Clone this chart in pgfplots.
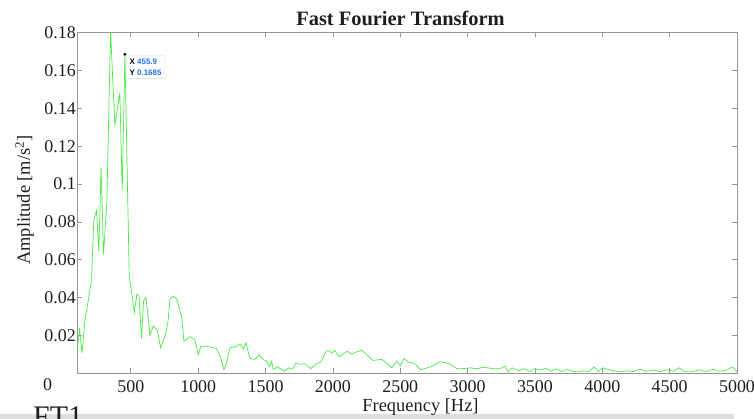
\documentclass[border=0pt]{standalone}
\usepackage{fontspec}
\setmainfont{Liberation Serif}
\newfontfamily\tipfont{Liberation Sans}
\usepackage{pgfplots}
\pgfplotsset{compat=1.18}
\definecolor{axgray}{RGB}{150,150,150}
\definecolor{fftgreen}{RGB}{70,235,70}
\definecolor{tipblue}{RGB}{30,120,235}
\definecolor{txt}{RGB}{30,30,30}
\begin{document}
\begin{tikzpicture}
\path[use as bounding box] (-77bp,-45.5bp) rectangle (677bp,373.5bp);
\fill[black!13] (-77bp,-45.5bp) rectangle (657bp,-40bp);
\node[anchor=base west,font=\fontsize{30}{30}\selectfont,text=txt,inner sep=0pt] at (-44bp,-53bp) {FT1};
\begin{axis}[
  scale only axis,
  width=660bp, height=341bp,
  xmin=100, xmax=5000, ymin=0, ymax=0.18,
  axis line style={axgray, line width=0.8pt},
  tick style={axgray, line width=0.8pt},
  major tick length=5bp,
  tick align=inside,
  xtick={500,1000,...,5000},
  xticklabels={500,1000,1500,2000,2500,3000,3500,4000,4500,5000},
  ytick={0.02,0.04,...,0.18},
  yticklabels={0.02,0.04,0.06,0.08,0.1,0.12,0.14,0.16,0.18},
  ticklabel style={font=\fontsize{18}{18}\selectfont, text=txt},
  yticklabel style={inner xsep=1bp},
  xticklabel style={inner ysep=0pt, yshift=-6.5bp},
  title={\textbf{Fast Fourier Transform}},
  title style={font=\fontsize{20.5}{20.5}\selectfont, text=txt, at={(rel axis cs:0.5,1)}, anchor=base, yshift=1.5bp, xshift=-6.5bp, inner sep=0pt},
  xlabel={Frequency [Hz]},
  xlabel style={font=\fontsize{18.5}{18.5}\selectfont, text=txt, at={(rel axis cs:0.5,0)}, anchor=base, yshift=-37.5bp, xshift=13.5bp, inner sep=0pt},
  ylabel={Amplitude [m/s\textsuperscript{2}]},
  ylabel style={font=\fontsize{18.5}{18.5}\selectfont, text=txt, at={(rel axis cs:0,0.5)}, anchor=base, yshift=47bp, xshift=3bp, inner sep=0pt},
  clip=true,
]
\addplot[fftgreen, line width=0.7pt, no marks] coordinates {
(100,0.0118) (119,0.0232) (138,0.0109) (158,0.0276) (183,0.0381) (208,0.0496)
(225,0.0812) (245,0.0860) (262,0.0645) (279,0.1085) (297,0.0628) (322,0.0909)
(349,0.1810) (381,0.1313) (418,0.1480) (436,0.0970) (455.9,0.1685) (488,0.0505)
(505,0.0434) (525,0.0320) (545,0.0420) (560,0.0410) (579,0.0188) (594,0.0381)
(611,0.0403) (634,0.0260) (641,0.0200) (666,0.0250) (696,0.0230) (721,0.0135)
(753,0.0197) (775,0.0270) (790,0.0390) (810,0.0408) (839,0.0396) (877,0.0300)
(894,0.0170) (938,0.0194) (975,0.0179) (1000,0.0100) (1020,0.0144) (1062,0.0144)
(1111,0.0135) (1136,0.0133) (1165,0.0085) (1191,0.0020) (1210,0.0057) (1236,0.0135)
(1285,0.0144) (1310,0.0155) (1335,0.0130) (1354,0.0162) (1384,0.0080) (1421,0.0074)
(1453,0.0100) (1483,0.0073) (1508,0.0065) (1528,0.0036) (1545,0.0065) (1557,0.0020)
(1587,0.0036) (1610,0.0025) (1644,0.0012) (1670,0.0030) (1700,0.0022) (1726,0.0056)
(1760,0.0048) (1790,0.0052) (1835,0.0026) (1880,0.0053) (1910,0.0060) (1949,0.0118)
(1970,0.0120) (1991,0.0109) (2015,0.0121) (2048,0.0088) (2080,0.0105) (2107,0.0118)
(2140,0.0102) (2170,0.0112) (2214,0.0123) (2250,0.0100) (2296,0.0069) (2330,0.0072)
(2362,0.0074) (2390,0.0060) (2437,0.0030) (2474,0.0065) (2500,0.0040) (2528,0.0079)
(2560,0.0060) (2600,0.0055) (2652,0.0020) (2700,0.0030) (2740,0.0040) (2796,0.0062)
(2840,0.0057) (2880,0.0045) (2920,0.0025) (2970,0.0026) (3020,0.0030) (3070,0.0025)
(3120,0.0033) (3190,0.0025) (3240,0.0025) (3279,0.0039) (3300,0.0008) (3330,0.0030)
(3380,0.0015) (3420,0.0025) (3460,0.0010) (3500,0.0025) (3540,0.0018) (3580,0.0028)
(3620,0.0012) (3660,0.0025) (3700,0.0010) (3740,0.0022) (3780,0.0012) (3820,0.0008)
(3860,0.0015) (3900,0.0010) (3940,0.0035) (3970,0.0010) (4000,0.0030) (4040,0.0022)
(4080,0.0015) (4130,0.0008) (4180,0.0015) (4230,0.0010) (4280,0.0022) (4330,0.0012)
(4380,0.0018) (4430,0.0010) (4480,0.0020) (4530,0.0012) (4570,0.0030) (4610,0.0010)
(4660,0.0008) (4720,0.0020) (4770,0.0010) (4820,0.0022) (4870,0.0012) (4920,0.0018)
(4967,0.0035) (5000,0.0010)
};
\addplot[black, only marks, mark=*, mark size=1.2pt] coordinates {(455.9,0.1685)};
\node[anchor=north west, draw=black!15, fill=white, rounded corners=1pt, inner xsep=3.5bp, inner ysep=3.5bp,
  font=\tipfont\bfseries\fontsize{8}{10.5}\selectfont, align=left, xshift=1bp, yshift=-1bp] at (axis cs:455.9,0.1685)
  {X \textcolor{tipblue}{455.9}\\Y \textcolor{tipblue}{0.1685}};
\end{axis}
\node[font=\fontsize{18}{18}\selectfont, text=txt, inner sep=0pt] at (-29.5bp,-11.5bp) {0};
\end{tikzpicture}
\end{document}
